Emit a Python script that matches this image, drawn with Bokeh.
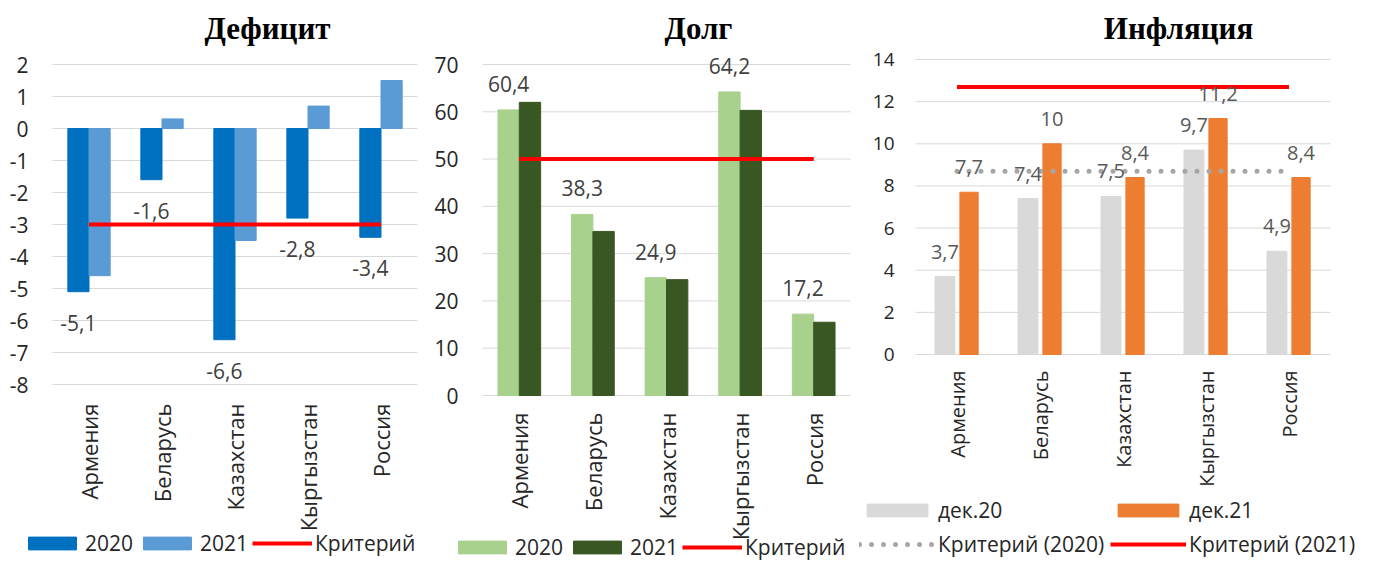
import math
from bokeh.plotting import figure
from bokeh.models import (ColumnDataSource, Range1d, LabelSet, Label, Legend, LegendItem)
from bokeh.layouts import row
from bokeh.embed import file_html
from bokeh.resources import INLINE
from bokeh.transform import dodge
from bokeh.core.properties import value

# ---------------- data ----------------
countries = ["Армения", "Беларусь", "Казахстан", "Кыргызстан", "Россия"]

deficit_2020 = [-5.1, -1.6, -6.6, -2.8, -3.4]
deficit_2021 = [-4.6, 0.3, -3.5, 0.7, 1.5]
deficit_criterion = -3.0
deficit_ticks = [-8, -7, -6, -5, -4, -3, -2, -1, 0, 1, 2]
deficit_tick_labels = ["-8", "-7", "-6", "-5", "-4", "-3", "-2", "-1", "0", "1", "2"]

debt_2020 = [60.4, 38.3, 24.9, 64.2, 17.2]
debt_2021 = [62.0, 34.7, 24.5, 60.3, 15.5]
debt_criterion = 50.0
debt_ticks = [0, 10, 20, 30, 40, 50, 60, 70]
debt_tick_labels = ["0", "10", "20", "30", "40", "50", "60", "70"]

infl_dec20 = [3.7, 7.4, 7.5, 9.7, 4.9]
infl_dec21 = [7.7, 10.0, 8.4, 11.2, 8.4]
infl_criterion_2020 = 8.7
infl_criterion_2021 = 12.7
infl_ticks = [0, 2, 4, 6, 8, 10, 12, 14]
infl_tick_labels = ["0", "2", "4", "6", "8", "10", "12", "14"]

series_names_a = ["2020", "2021", "Критерий"]
series_names_b = ["дек.20", "дек.21", "Критерий (2020)", "Критерий (2021)"]
titles = ["Дефицит", "Долг", "Инфляция"]

# ---------------- layout constants ----------------
FONT = "Open Sans"
TITLE_FONT = "Liberation Serif"
H = 561
TEXT = "#262626"
N = len(countries)
idx = list(range(N))


def fmt(v):
    return ("%g" % v).replace(".", ",")


def make_panel(width, band_left, band_right, v_top, px_top, v_bot, px_bot,
               ticks, tick_labels, title, title_x, ystandoff, xstandoff,
               tick_fs="21px", cat_fs="22px"):
    """Frame covers the whole figure; axes drawn as annotations."""
    ppx = (band_right - band_left) / N
    ppu = (px_bot - px_top) / (v_top - v_bot)
    xr = Range1d(-0.5 - band_left / ppx, N - 0.5 + (width - band_right) / ppx)
    yr = Range1d(v_bot - (H - px_bot) / ppu, v_top + px_top / ppu)
    p = figure(width=width, height=H, x_range=xr, y_range=yr,
               output_backend="svg", toolbar_location=None,
               x_axis_location=None, y_axis_location=None,
               min_border=0, min_border_left=0, min_border_right=0,
               min_border_top=0, min_border_bottom=0)
    p.outline_line_color = None
    p.background_fill_color = "white"
    p.border_fill_color = "white"
    p.grid.visible = False
    # gridlines
    gsrc = ColumnDataSource(dict(y=ticks, x0=[-0.5] * len(ticks),
                                 x1=[N - 0.5] * len(ticks), lab=tick_labels))
    p.segment(x0="x0", y0="y", x1="x1", y1="y", source=gsrc,
              line_color="#D9D9D9", line_width=1)
    # y tick labels
    p.add_layout(LabelSet(x="x0", y="y", text="lab", source=gsrc, x_offset=-ystandoff,
                          text_align="right", text_baseline="middle",
                          text_font=value(FONT), text_font_size=tick_fs,
                          text_color=TEXT))
    # category labels
    csrc = ColumnDataSource(dict(i=idx, c=countries, base=[ticks[0]] * N))
    p.add_layout(LabelSet(x="i", y="base", text="c", source=csrc, angle=math.pi / 2,
                          y_offset=-xstandoff, text_align="right",
                          text_baseline="middle", text_font=value(FONT),
                          text_font_size=cat_fs, text_color=TEXT))
    # title
    p.add_layout(Label(x=title_x, y=H - 28, x_units="screen", y_units="screen",
                       text=title, text_font=TITLE_FONT, text_font_style="bold",
                       text_font_size="31px", text_align="center",
                       text_baseline="middle", text_color="black"))
    return p


def make_legend(items, loc, gw, gh, ncols=None, spacing=4, label_height=20):
    kw = dict(items=items, orientation="horizontal", location=loc,
              glyph_width=gw, glyph_height=gh, label_standoff=3, spacing=spacing,
              label_height=label_height, padding=0, margin=0,
              border_line_color=None, background_fill_alpha=0,
              label_text_font=FONT, label_text_font_size="21px",
              label_text_color=TEXT)
    if ncols:
        kw["ncols"] = ncols
    return Legend(**kw)


# ---------------- panel 1: deficit ----------------
src1 = ColumnDataSource(dict(i=idx, a=deficit_2020, b=deficit_2021,
                             crit=[deficit_criterion] * N,
                             lab=[fmt(v) for v in deficit_2020]))
p1 = make_panel(430, 52, 417, 2, 64, -8, 384, deficit_ticks, deficit_tick_labels,
                titles[0], 267, 24, 19)
r1a = p1.vbar(x=dodge("i", -0.145), top="a", width=0.29, source=src1, color="#0070C0")
r1b = p1.vbar(x=dodge("i", 0.145), top="b", width=0.29, source=src1, color="#5B9BD5")
r1c = p1.line(x="i", y="crit", source=src1, line_color="#FF0000", line_width=4)
p1.add_layout(LabelSet(x=dodge("i", -0.145), y="a", text="lab", source=src1,
                       y_offset=-31, text_align="center", text_baseline="middle",
                       text_font=value(FONT), text_font_size="21px",
                       text_color="#404040"))
p1.add_layout(make_legend([LegendItem(label=series_names_a[0], renderers=[r1a]),
                           LegendItem(label=series_names_a[1], renderers=[r1b]),
                           LegendItem(label=series_names_a[2], renderers=[r1c])],
                          (22, 4), 60, 16), "center")

# ---------------- panel 2: debt ----------------
src2 = ColumnDataSource(dict(i=idx, a=debt_2020, b=debt_2021,
                             crit=[debt_criterion] * N,
                             lab=[fmt(v) for v in debt_2020]))
p2 = make_panel(426, 52, 420, 70, 64, 0, 395, debt_ticks, debt_tick_labels,
                titles[1], 268, 24, 17)
r2a = p2.vbar(x=dodge("i", -0.145), top="a", width=0.29, source=src2, color="#A9D18E")
r2b = p2.vbar(x=dodge("i", 0.145), top="b", width=0.29, source=src2, color="#385723")
r2c = p2.line(x="i", y="crit", source=src2, line_color="#FF0000", line_width=4)
p2.add_layout(LabelSet(x=dodge("i", -0.145), y="a", text="lab", source=src2,
                       y_offset=26, text_align="center", text_baseline="middle",
                       text_font=value(FONT), text_font_size="21px",
                       text_color="#404040"))
p2.add_layout(make_legend([LegendItem(label=series_names_a[0], renderers=[r2a]),
                           LegendItem(label=series_names_a[1], renderers=[r2b]),
                           LegendItem(label=series_names_a[2], renderers=[r2c])],
                          (22, 0), 60, 16), "center")

# ---------------- panel 3: inflation ----------------
src3 = ColumnDataSource(dict(i=idx, a=infl_dec20, b=infl_dec21,
                             crit0=[infl_criterion_2020] * N,
                             crit1=[infl_criterion_2021] * N,
                             laba=[fmt(v) for v in infl_dec20],
                             labb=[fmt(v) for v in infl_dec21]))
p3 = make_panel(530, 59, 474, 14, 59, 0, 354, infl_ticks, infl_tick_labels,
                titles[2], 322, 21, 16, tick_fs="19px", cat_fs="20px")
r3a = p3.vbar(x=dodge("i", -0.145), top="a", width=0.24, source=src3, color="#D9D9D9")
r3b = p3.vbar(x=dodge("i", 0.145), top="b", width=0.22, source=src3, color="#ED7D31")
r3c = p3.line(x="i", y="crit0", source=src3, line_color="#A6A6A6", line_width=5,
              line_dash="0 12", line_cap="round")
r3d = p3.line(x="i", y="crit1", source=src3, line_color="#FF0000", line_width=4)
for col, dx in (("laba", -0.145), ("labb", 0.145)):
    p3.add_layout(LabelSet(x=dodge("i", dx), y=col[-1], text=col, source=src3,
                           y_offset=25, text_align="center", text_baseline="middle",
                           text_font=value(FONT), text_font_size="20px",
                           text_color="#595959"))
p3.add_layout(make_legend([LegendItem(label=series_names_b[0], renderers=[r3a]),
                           LegendItem(label=series_names_b[1], renderers=[r3b]),
                           LegendItem(label=series_names_b[2], renderers=[r3c]),
                           LegendItem(label=series_names_b[3], renderers=[r3d])],
                          (3, 3), 76, 16, ncols=2, spacing=6, label_height=26),
              "center")

layout = row(p1, p2, p3, spacing=0)
open("out.html", "w").write(file_html(layout, INLINE))
